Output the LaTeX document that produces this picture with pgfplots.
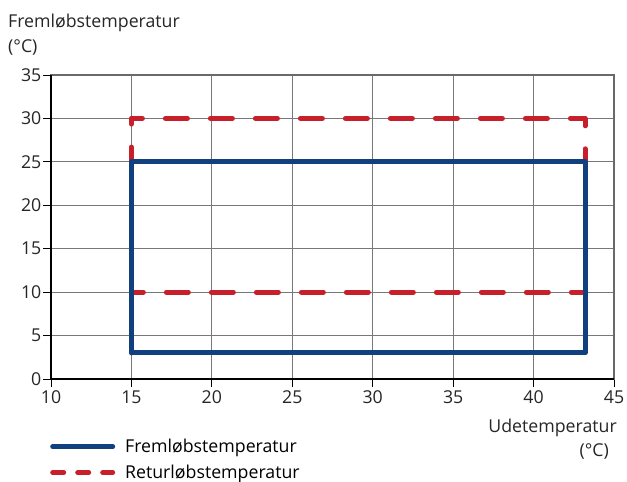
\documentclass[border=0pt]{standalone}
\usepackage{fontspec}
\setmainfont{Open Sans}
\usepackage{pgfplots}
\pgfplotsset{compat=1.18}
\definecolor{fremblue}{RGB}{16,64,126}
\definecolor{returred}{RGB}{200,32,42}
\definecolor{gridgray}{RGB}{120,120,120}
\definecolor{framegray}{RGB}{105,105,105}
\pgfplotsset{
  longline/.style={legend image code/.code={\draw[##1] (0bp,0bp) -- (60bp,0bp);}},
}
\newcommand{\lblfont}{\fontsize{17.8}{21}\selectfont}
\begin{document}
\begin{tikzpicture}
\begin{axis}[
  scale only axis,
  width=563bp, height=304bp,
  xmin=10, xmax=45, ymin=0, ymax=35,
  xtick={10,15,...,45}, ytick={0,5,...,35},
  grid=major,
  major grid style={gridgray, line width=0.9bp},
  axis line style={framegray, line width=2.2bp},
  tick align=outside,
  major tick length=8bp,
  xtick pos=bottom, ytick pos=left,
  tick style={black, line width=0.9bp},
  /pgf/number format/assume math mode=true,
  ticklabel style={font=\lblfont, text=black!85},
  xticklabel style={inner ysep=1bp, yshift=-2.5bp},
  yticklabel style={inner xsep=1.5bp},
  clip=false,
  legend style={draw=none, fill=none, at={(rel axis cs:0,0)}, anchor=north west,
    xshift=-1bp, yshift=-58bp, font=\lblfont,
    row sep=7bp, column sep=8bp, inner sep=0pt},
  legend cell align=left,
]
\addlegendimage{longline, line width=5bp, color=fremblue, line cap=round}
\addlegendentry{Fremløbstemperatur}
\addlegendimage{longline, line width=5bp, color=returred, line cap=round, dash pattern=on 11bp off 14bp}
\addlegendentry{Returløbstemperatur}
\addplot[forget plot, returred, line width=5bp, line cap=round, line join=round, dash pattern=on 22bp off 23bp, dash phase=11bp] coordinates {(15,30) (43.2,30) (43.2,10) (15,10) (15,30)};
\addplot[forget plot, fremblue, line width=5bp, line cap=round, line join=round] coordinates {(15,3) (15,25) (43.2,25) (43.2,3) (15,3)};
\draw[black, line width=2.2bp] (rel axis cs:0,1) -- (rel axis cs:0,0) -- (rel axis cs:1,0);
\coordinate (ll) at (rel axis cs:0,0);
\coordinate (ur) at (rel axis cs:1,1);
\node[anchor=base west, font=\lblfont, text=black!85, inner sep=0pt] at ([xshift=-43bp, yshift=47bp]rel axis cs:0,1) {Fremløbstemperatur};
\node[anchor=base west, font=\lblfont, text=black!85, inner sep=0pt] at ([xshift=-43bp, yshift=22bp]rel axis cs:0,1) {(°C)};
\node[anchor=base east, font=\lblfont, text=black!85, inner sep=0pt] at ([xshift=3bp, yshift=-53bp]rel axis cs:1,0) {Udetemperatur};
\node[anchor=base east, font=\lblfont, text=black!85, inner sep=0pt] at ([xshift=-5bp, yshift=-77bp]rel axis cs:1,0) {(°C)};
\end{axis}
\pgfresetboundingbox
\path[use as bounding box] ([xshift=-51bp, yshift=-103bp]ll) rectangle ([xshift=13bp, yshift=75bp]ur);
\end{tikzpicture}
\end{document}
